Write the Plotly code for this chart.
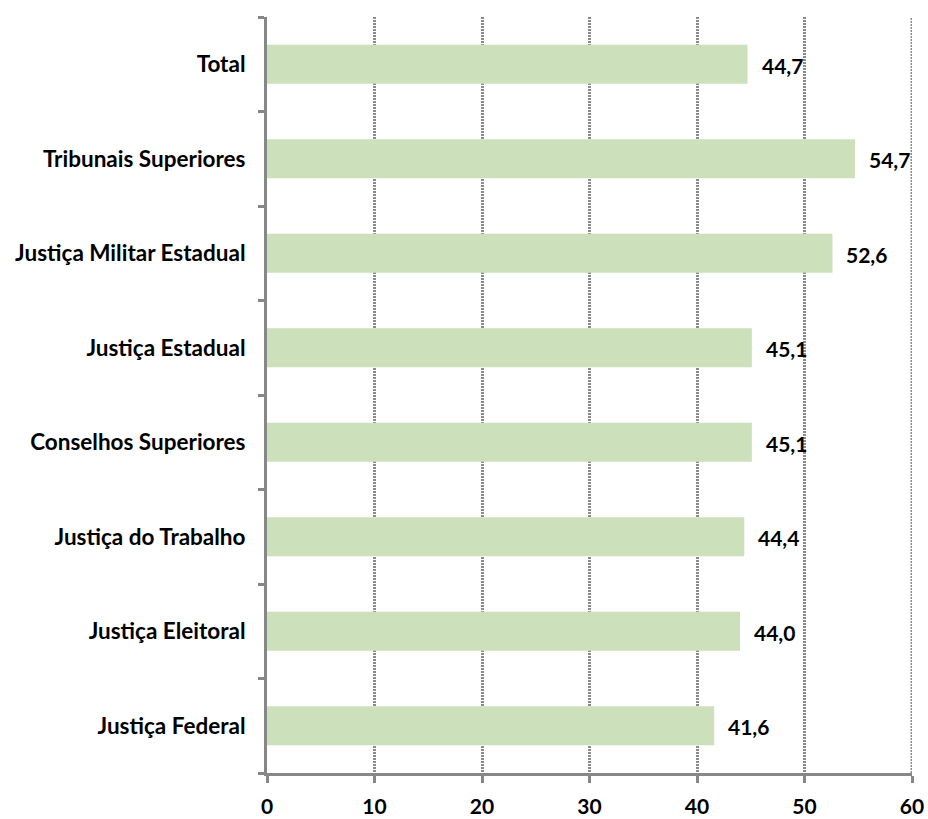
import plotly.graph_objects as go

categories = ["Total", "Tribunais Superiores", "Justiça Militar Estadual", "Justiça Estadual",
              "Conselhos Superiores", "Justiça do Trabalho", "Justiça Eleitoral", "Justiça Federal"]
values = [44.7, 54.7, 52.6, 45.1, 45.1, 44.4, 44.0, 41.6]
x_ticks = [0, 10, 20, 30, 40, 50, 60]

labels = [f"{v:.1f}".replace(".", ",") for v in values]
FONT = "Lato, Carlito, Calibri, sans-serif"
GRID = "#8C8C8C"

fig = go.Figure(go.Bar(
    x=values, y=categories, orientation="h",
    marker=dict(color="#CCE0BC", line=dict(width=0)),
    hoverinfo="skip",
))

for c, v, t in zip(categories, values, labels):
    fig.add_annotation(x=v, y=c, text=f"<b>{t}</b>", showarrow=False,
                       xanchor="left", xshift=12, yshift=-1,
                       font=dict(family=FONT, size=21, color="#000000"))

# gridline at the last tick (edge of the range), which Plotly does not draw itself
fig.add_shape(type="line", xref="x", yref="paper",
              x0=x_ticks[-1], x1=x_ticks[-1], y0=0, y1=1, layer="below",
              line=dict(color=GRID, width=3, dash="2px,1px"))

fig.update_layout(
    width=928, height=819,
    margin=dict(l=267, r=16, t=17, b=46, autoexpand=False),
    plot_bgcolor="white", paper_bgcolor="white",
    bargap=0.585,
    showlegend=False,
    font=dict(family=FONT, size=21, color="#000000"),
)
fig.update_xaxes(
    range=[0, 60], tickvals=x_ticks, ticktext=[f"<b>{t}</b>" for t in x_ticks],
    showgrid=True, gridcolor=GRID, gridwidth=3, griddash="2px,1px",
    showline=True, linecolor="#878787", linewidth=3,
    ticks="outside", ticklen=7, tickwidth=3, tickcolor="#878787",
    tickfont=dict(family=FONT, size=21, color="#000000"),
    ticklabelstandoff=6, automargin=False,
    zeroline=False, fixedrange=True,
)
fig.update_yaxes(
    categoryorder="array", categoryarray=categories, autorange="reversed",
    tickson="boundaries", ticks="outside", ticklen=6, tickwidth=3, tickcolor="#878787",
    showline=True, linecolor="#878787", linewidth=3,
    showgrid=False, automargin=False,
    tickvals=categories, ticktext=[f"<b>{c}</b>" for c in categories],
    tickfont=dict(family=FONT, size=22.5, color="#000000"),
    ticklabelstandoff=14, fixedrange=True,
)
fig.write_html("out.html", config={"displayModeBar": False},
               post_script="document.body.style.margin='0';document.body.style.overflow='hidden';")
